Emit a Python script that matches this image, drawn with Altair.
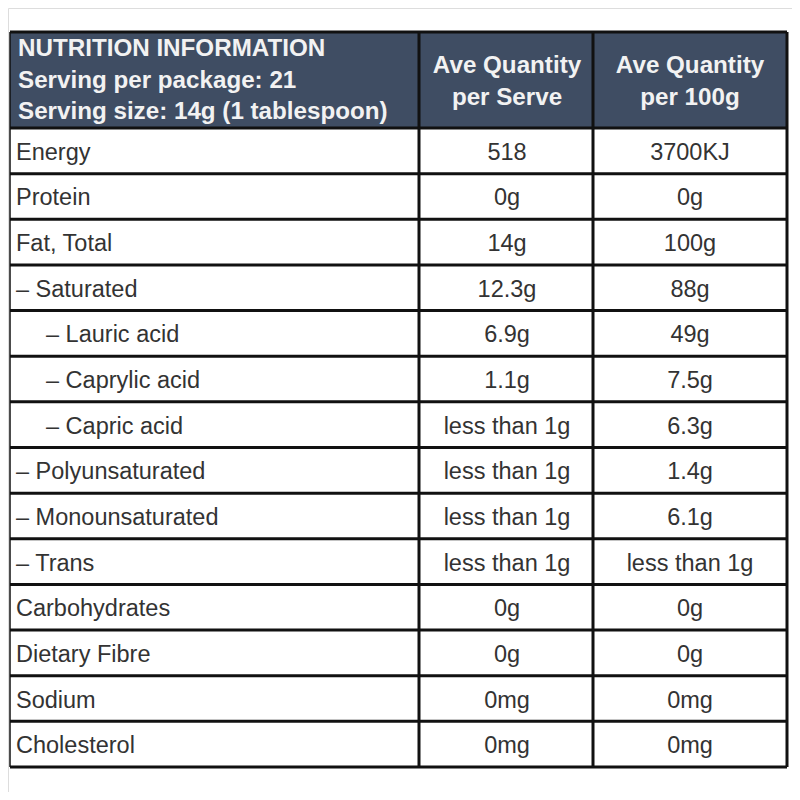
import altair as alt
import pandas as pd

# ---- data ----
nutrients = ["Energy", "Protein", "Fat, Total", "– Saturated", "– Lauric acid",
             "– Caprylic acid", "– Capric acid", "– Polyunsaturated",
             "– Monounsaturated", "– Trans", "Carbohydrates", "Dietary Fibre",
             "Sodium", "Cholesterol"]
indent = [0, 0, 0, 0, 1, 1, 1, 0, 0, 0, 0, 0, 0, 0]
per_serve = ["518", "0g", "14g", "12.3g", "6.9g", "1.1g", "less than 1g",
             "less than 1g", "less than 1g", "less than 1g", "0g", "0g", "0mg", "0mg"]
per_100g = ["3700KJ", "0g", "100g", "88g", "49g", "7.5g", "6.3g", "1.4g", "6.1g",
            "less than 1g", "0g", "0g", "0mg", "0mg"]
header_left = ["NUTRITION INFORMATION", "Serving per package: 21",
               "Serving size: 14g (1 tablespoon)"]
header_cols = [["Ave Quantity", "per Serve"], ["Ave Quantity", "per 100g"]]

# ---- layout (image pixel coordinates) ----
X0, X1, X2, X3 = 10, 419, 593, 787
Y_TOP, Y_HEAD = 32, 128
ROW_H = (767 - Y_HEAD) / len(nutrients)
HEAD_BG = "#3f4d63"
BODY_FONT = "Liberation Sans Narrow, Arial Narrow, Liberation Sans, Arial"
HEAD_FONT = "Liberation Sans, Arial"
BODY_FS = 23.5
HEAD_FS = 24.2

xs = alt.Scale(domain=[8, 792])
ys = alt.Scale(domain=[8, 792], reverse=True)

n = len(nutrients)
body = pd.DataFrame({
    "label": nutrients,
    "serve": per_serve,
    "g100": per_100g,
    "lx": [16 + 30 * i for i in indent],
    "cy": [Y_HEAD + ROW_H * (k + 0.5) + 2 for k in range(n)],
})

hlines = pd.DataFrame({"y": [Y_TOP, Y_HEAD] + [Y_HEAD + ROW_H * (k + 1) for k in range(n)],
                       "x": X0, "x2": X3})
vlines = pd.DataFrame({"x": [X0, X1, X2, X3], "y": Y_TOP, "y2": Y_HEAD + ROW_H * n,
                       "w": [1.5, 3, 3, 3]})

head_bg = pd.DataFrame({"x": [X0], "x2": [X3], "y": [Y_TOP], "y2": [Y_HEAD]})
hl = pd.DataFrame({"t": header_left, "x": 18, "y": [49, 81, 112]})
hc = pd.DataFrame({
    "t": [header_cols[0][0], header_cols[0][1], header_cols[1][0], header_cols[1][1]],
    "x": [(X1 + X2) / 2 + 1, (X1 + X2) / 2 + 1, (X2 + X3) / 2, (X2 + X3) / 2],
    "y": [66, 98, 66, 98],
})

bg = alt.Chart(head_bg).mark_rect(color=HEAD_BG).encode(
    x=alt.X("x:Q", scale=xs, axis=None), x2="x2",
    y=alt.Y("y:Q", scale=ys, axis=None), y2="y2")

hrule = alt.Chart(hlines).mark_rule(color="#111111", strokeWidth=3).encode(
    x=alt.X("x:Q", scale=xs, axis=None), x2="x2",
    y=alt.Y("y:Q", scale=ys, axis=None))

vrule = alt.Chart(vlines).mark_rule(color="#111111").encode(
    x=alt.X("x:Q", scale=xs, axis=None),
    y=alt.Y("y:Q", scale=ys, axis=None), y2="y2",
    strokeWidth=alt.StrokeWidth("w:Q", scale=None, legend=None))

hl_text = alt.Chart(hl).mark_text(align="left", baseline="middle", font=HEAD_FONT,
                                  fontWeight="bold", fontSize=HEAD_FS, color="#f2f2f2").encode(
    x=alt.X("x:Q", scale=xs, axis=None), y=alt.Y("y:Q", scale=ys, axis=None), text="t:N")

hc_text = alt.Chart(hc).mark_text(align="center", baseline="middle", font=HEAD_FONT,
                                  fontWeight="bold", fontSize=HEAD_FS, color="#f2f2f2").encode(
    x=alt.X("x:Q", scale=xs, axis=None), y=alt.Y("y:Q", scale=ys, axis=None), text="t:N")

lab = alt.Chart(body).mark_text(align="left", baseline="middle", font=BODY_FONT,
                                fontSize=BODY_FS, color="#333333").encode(
    x=alt.X("lx:Q", scale=xs, axis=None), y=alt.Y("cy:Q", scale=ys, axis=None), text="label:N")

c1 = alt.Chart(body).mark_text(align="center", baseline="middle", font=BODY_FONT,
                               fontSize=BODY_FS, color="#333333").encode(
    x=alt.X("x:Q", scale=xs, axis=None), y=alt.Y("cy:Q", scale=ys, axis=None), text="serve:N"
).transform_calculate(x=str((X1 + X2) / 2 + 1))

c2 = alt.Chart(body).mark_text(align="center", baseline="middle", font=BODY_FONT,
                               fontSize=BODY_FS, color="#333333").encode(
    x=alt.X("x:Q", scale=xs, axis=None), y=alt.Y("cy:Q", scale=ys, axis=None), text="g100:N"
).transform_calculate(x=str((X2 + X3) / 2))

chart = alt.layer(bg, hrule, vrule, hl_text, hc_text, lab, c1, c2).properties(
    width=784, height=784, padding=0, autosize=alt.AutoSizeParams(type="none")
).configure_view(stroke=None, strokeWidth=0).configure(background="white")

chart.save("out.html", embed_options={"renderer": "svg", "actions": False})
